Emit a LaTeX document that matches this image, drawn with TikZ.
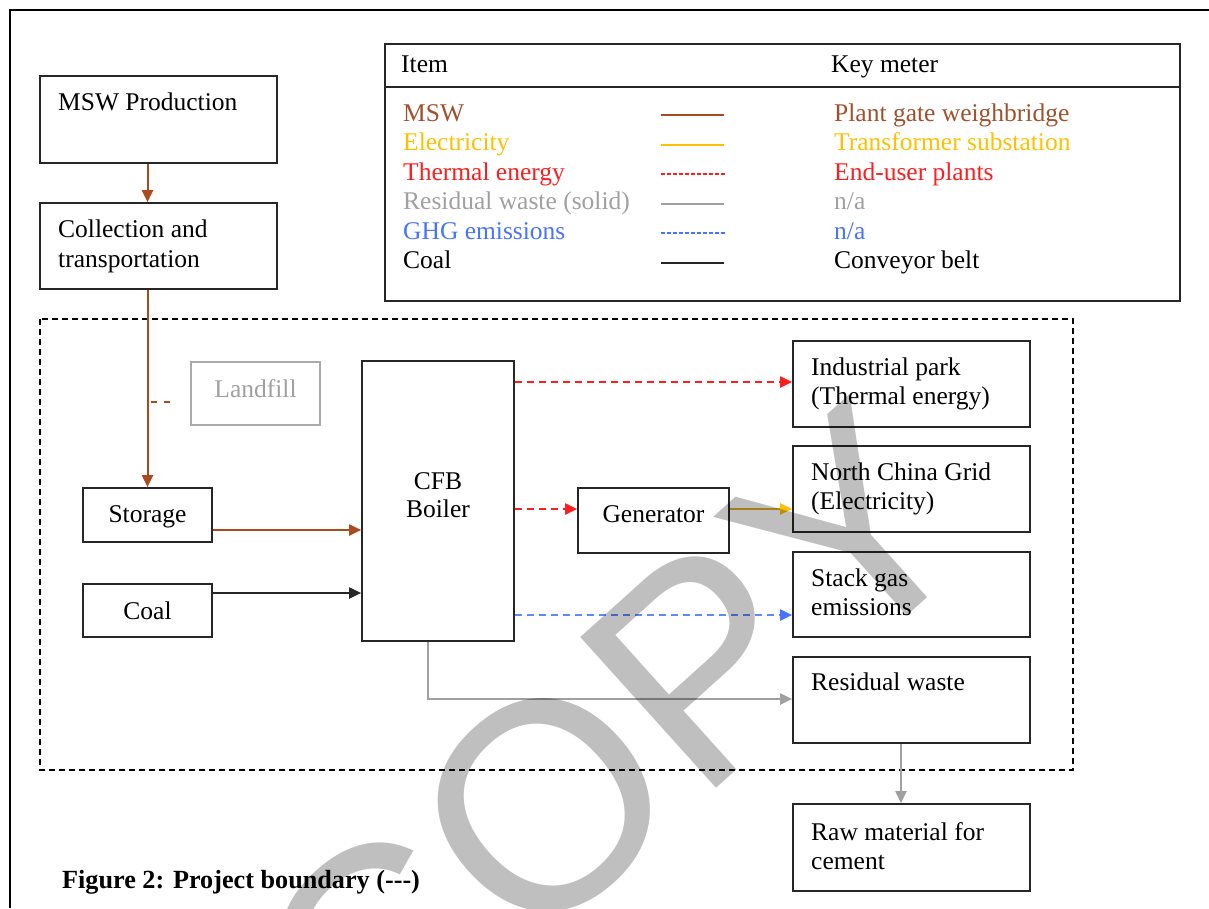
\documentclass[tikz,border=0pt]{standalone}
\usepackage{fontspec}
\setmainfont{Liberation Serif}
\newfontfamily\wmfont{Liberation Sans}
\usetikzlibrary{arrows.meta,calc}
\definecolor{mswc}{RGB}{170,75,30}
\definecolor{mswtxt}{RGB}{160,80,45}
\definecolor{elec}{RGB}{255,192,0}
\definecolor{elecline}{RGB}{218,172,35}
\definecolor{therm}{RGB}{255,30,30}
\definecolor{resid}{RGB}{160,160,160}
\definecolor{ghg}{RGB}{70,115,255}
\definecolor{ghgline}{RGB}{95,135,255}
\begin{document}
\begin{tikzpicture}[x=1pt,y=-1pt,
  font=\fontsize{25.5}{29.5}\selectfont,
  box/.style={draw=black!85, line width=1.7pt, rectangle, inner sep=0pt},
  txt/.style={anchor=base west, inner sep=0pt},
  ctxt/.style={anchor=base, inner sep=0pt},
  tip/.style={-{Triangle[length=12pt,width=11pt]}},
  mswarrow/.style={draw=mswc, line width=2pt, tip},
  thermarrow/.style={draw=therm, line width=2pt, dash pattern=on 7pt off 5pt, tip},
  ghgarrow/.style={draw=ghgline, line width=2pt, dash pattern=on 7pt off 5pt, -{Triangle[length=12pt,width=11pt,color=ghg]}},
  residarrow/.style={draw=resid, line width=2pt, tip},
  coalarrow/.style={draw=black!85, line width=2pt, tip},
  elecarrow/.style={draw=elecline, line width=2.3pt, -{Triangle[length=12pt,width=11pt,color=elec]}},
  legline/.style={line width=2pt},
  legdash/.style={line width=1.8pt, dash pattern=on 4pt off 2pt}
]
\useasboundingbox (0,0) rectangle (1209,908);
% outer frame
\draw[line width=2.2pt] (10,908) -- (10,10) -- (1209,10);

% boxes
\node[box, minimum width=237pt, minimum height=87pt] (msw) at (158.5,119.5) {};
\node[box, minimum width=237pt, minimum height=86pt] (coll) at (158.5,246) {};
\node[box, minimum width=795pt, minimum height=257pt] (legend) at (782.5,172.5) {};
\node[box, draw=resid!90, minimum width=129pt, minimum height=63pt] (landfill) at (255.5,393.5) {};
\node[box, minimum width=129pt, minimum height=54pt] (storage) at (147.5,515) {};
\node[box, minimum width=129pt, minimum height=53pt] (coal) at (147.5,610.5) {};
\node[box, minimum width=152pt, minimum height=280pt] (boiler) at (438,501) {};
\node[box, minimum width=151pt, minimum height=65pt] (gen) at (653.5,520.5) {};
\node[box, minimum width=237pt, minimum height=86pt] (ind) at (911.5,384) {};
\node[box, minimum width=237pt, minimum height=86pt] (grid) at (911.5,489) {};
\node[box, minimum width=237pt, minimum height=85pt] (stack) at (911.5,594.5) {};
\node[box, minimum width=237pt, minimum height=86pt] (resw) at (911.5,700) {};
\node[box, minimum width=237pt, minimum height=87pt] (raw) at (911.5,847.5) {};

% project boundary
\draw[line width=1.6pt, dash pattern=on 6pt off 4pt] (40,319) rectangle (1073,770);

% legend header rule
\draw[line width=1.7pt, black!85] (legend.west |- 0,87) -- (legend.east |- 0,87);

% box texts
\node[txt] (t1) at (58,110) {MSW Production};
\node[txt] (t2) at (58,237) {Collection and};
\node[txt] (t3) at (58,267) {transportation};
\node[ctxt, text=resid] (t4) at (landfill.center |- 0,397) {Landfill};
\node[ctxt] (t5) at (storage.center |- 0,522) {Storage};
\node[ctxt] (t6) at (coal.center |- 0,619) {Coal};
\node[ctxt] (t7) at (boiler.center |- 0,489) {CFB};
\node[ctxt] (t8) at (boiler.center |- 0,517) {Boiler};
\node[ctxt] (t9) at (gen.center |- 0,522) {Generator};
\node[txt] (t10) at (811,375) {Industrial park};
\node[txt] (t11) at (811,404) {(Thermal energy)};
\node[txt] (t12) at (811,480) {North China Grid};
\node[txt] (t13) at (811,509) {(Electricity)};
\node[txt] (t14) at (811,586) {Stack gas};
\node[txt] (t15) at (811,615) {emissions};
\node[txt] (t16) at (811,690) {Residual waste};
\node[txt] (t17) at (811,840) {Raw material for};
\node[txt] (t18) at (811,869) {cement};
\node[txt, font=\fontsize{26.2}{30}\selectfont\bfseries] (cap) at (62,888) {Figure 2: Project boundary (-{}-{}-)};

% legend texts
\node[txt] (h1) at (401,72) {Item};
\node[txt] (h2) at (831,72) {Key meter};
\node[txt, text=mswtxt] (l1) at (403,121) {MSW};
\node[txt, text=elec] (l2) at (403,150.5) {Electricity};
\node[txt, text=therm] (l3) at (403,180) {Thermal energy};
\node[txt, text=resid] (l4) at (403,209.5) {Residual waste (solid)};
\node[txt, text=ghg] (l5) at (403,239) {GHG emissions};
\node[txt] (l6) at (403,268.5) {Coal};
\node[txt, text=mswtxt] (m1) at (834,121) {Plant gate weighbridge};
\node[txt, text=elec] (m2) at (834,150.5) {Transformer substation};
\node[txt, text=therm] (m3) at (834,180) {End-user plants};
\node[txt, text=resid] (m4) at (834,209.5) {n/a};
\node[txt, text=ghg] (m5) at (834,239) {n/a};
\node[txt] (m6) at (834,268.5) {Conveyor belt};
% legend line samples
\draw[legline, mswc] (661,115) -- (724,115);
\draw[legline, elec] (661,144.5) -- (724,144.5);
\draw[legdash, therm] (661,174) -- (726,174);
\draw[legline, resid] (661,203.5) -- (724,203.5);
\draw[legdash, ghg] (661,233) -- (726,233);
\draw[legline, black!85] (661,262.5) -- (724,262.5);

% connectors
\coordinate (cx) at (147.5,0);
\draw[mswarrow] (msw.south -| cx) -- (coll.north -| cx);
\draw[mswarrow] (coll.south -| cx) -- (storage.north);
\coordinate (lf) at (171,402);
\draw[draw=mswc, line width=1.8pt, dash pattern=on 6pt off 7pt, dash phase=-3pt] (lf -| cx) -- (lf);
\coordinate (sa) at ($(storage.east)+(0,15)$);
\draw[mswarrow] (sa) -- (sa -| boiler.west);
\coordinate (ca) at ($(coal.east)+(0,-17.5)$);
\draw[coalarrow] (ca) -- (ca -| boiler.west);
\coordinate (yi) at (0,382);
\draw[thermarrow] (yi -| boiler.east) -- (yi -| ind.west);
\coordinate (yg) at (0,509);
\draw[thermarrow] (yg -| boiler.east) -- (yg -| gen.west);
\draw[elecarrow] (yg -| gen.east) -- (yg -| grid.west);
\coordinate (ys) at (0,615);
\draw[ghgarrow] (ys -| boiler.east) -- (ys -| stack.west);
\coordinate (bx) at (428,0);
\draw[residarrow] (boiler.south -| bx) |- ($(resw.west)+(0,-1)$);
\coordinate (rx) at (901,0);
\draw[residarrow] (resw.south -| rx) -- (raw.north -| rx);

% watermark
\node[rotate=42, text=black, opacity=0.25, inner sep=0pt,
  font=\wmfont\fontsize{295}{295}\selectfont] (wm) at (612,745) {COPY};
\end{tikzpicture}
\end{document}
